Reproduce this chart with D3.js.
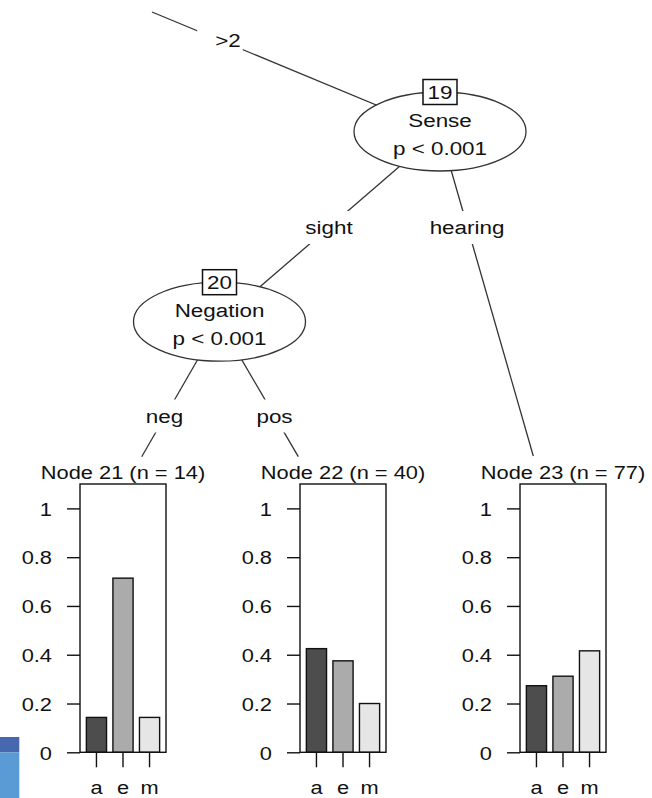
<!DOCTYPE html>
<html>
<head>
<meta charset="utf-8">
<script src="https://cdn.jsdelivr.net/npm/d3@7"></script>
<style>
body { margin: 0; background: #fff; }
svg { display: block; }
text { font-family: "Liberation Sans", Arial, sans-serif; fill: #111; }
</style>
</head>
<body>
<svg></svg>
<script>
// Terminal nodes: id, size and class proportions
var nodeIds = [21, 22, 23];
var nodeCounts = [14, 40, 77];
var classes = ["a", "e", "m"];
var node21Props = [0.143, 0.714, 0.143];
var node22Props = [0.425, 0.375, 0.2];
var node23Props = [0.273, 0.312, 0.416];
var yTicks = [0, 0.2, 0.4, 0.6, 0.8, 1];
var yTickLabels = ["0", "0.2", "0.4", "0.6", "0.8", "1"];

// Inner nodes
var innerIds = [19, 20];
var innerVars = ["Sense", "Negation"];
var innerPvals = ["p < 0.001", "p < 0.001"];

// Edge labels (top stub, 19->20, 19->23, 20->21, 20->22)
var edgeLabels = [">2", "sight", "hearing", "neg", "pos"];

// ---- layout (not data) ----
var W = 652, H = 798;
var xStretch = 1.18; // text in the picture is a bit wider than Arial
var treeFont = 19, panelFont = 18.5;
var innerPos = [[440, 131.5], [219.5, 321.7]];
var ellRx = 86, ellRy = 39.5;
var panelLeft = [80, 300, 520], panelW = 86;
var panelTop = 484, panelBottom = 752.3;
var barColors = ["#4d4d4d", "#ababab", "#e6e6e6"];
var lineCol = "#333";

// edges: [x1, y1, x2, y2], label centre, rect shift
var edges = [
    [152, 12, innerPos[0][0], innerPos[0][1]],
    [innerPos[0][0], innerPos[0][1], innerPos[1][0], innerPos[1][1]],
    [innerPos[0][0], innerPos[0][1], 533.3, 456],
    [innerPos[1][0], innerPos[1][1], 141.7, 456.7],
    [innerPos[1][0], innerPos[1][1], 298.3, 456.7]
];
var labelPos = [[228, 40], [329, 227.5], [467, 227.5], [164.5, 416], [274.5, 416]];
var rectShift = [-8, 0, 0, 0, 0];

var svg = d3.select("svg").attr("width", W).attr("height", H);

//Writes text stretched horizontally like the reference.
function stretchText(g, x, y, str, size, anchor) {
    return g.append("text")
        .attr("transform", "translate(" + x + "," + y + ") scale(" + xStretch + ",1)")
        .attr("text-anchor", anchor || "middle")
        .attr("font-size", size)
        .text(str);
}

// slide decoration in lower-left corner
svg.append("rect").attr("x", 0).attr("y", 737).attr("width", 19.3).attr("height", 15.3).attr("fill", "#4767af");
svg.append("rect").attr("x", 0).attr("y", 752.3).attr("width", 19.3).attr("height", H - 752.3).attr("fill", "#5b9bd5");

// edges
var i;
for (i = 0; i < edges.length; i++) {
    svg.append("line")
        .attr("x1", edges[i][0]).attr("y1", edges[i][1])
        .attr("x2", edges[i][2]).attr("y2", edges[i][3])
        .attr("stroke", lineCol).attr("stroke-width", 1.3);
}

// edge labels with white background
for (i = 0; i < edgeLabels.length; i++) {
    var lg = svg.append("g");
    var bg = lg.append("rect").attr("fill", "white");
    var t = stretchText(lg, labelPos[i][0], labelPos[i][1] + 6.7, edgeLabels[i], treeFont);
    var tw = t.node().getComputedTextLength() * xStretch;
    bg.attr("x", labelPos[i][0] + rectShift[i] - tw / 2 - 10)
        .attr("y", labelPos[i][1] - 16.5)
        .attr("width", tw + 20)
        .attr("height", 33);
}

// inner nodes
for (i = 0; i < innerIds.length; i++) {
    var cx = innerPos[i][0], cy = innerPos[i][1];
    svg.append("ellipse")
        .attr("cx", cx).attr("cy", cy).attr("rx", ellRx).attr("ry", ellRy)
        .attr("fill", "white").attr("stroke", lineCol).attr("stroke-width", 1.3);
    stretchText(svg, cx, cy - 4.5, innerVars[i], treeFont);
    stretchText(svg, cx, cy + 23, innerPvals[i], treeFont);
    svg.append("rect")
        .attr("x", cx - 17).attr("y", cy - ellRy - 12.5)
        .attr("width", 34).attr("height", 25)
        .attr("fill", "white").attr("stroke", "#111").attr("stroke-width", 1.5);
    stretchText(svg, cx, cy - ellRy + 7, String(innerIds[i]), treeFont);
}

// terminal panels
var props = [node21Props, node22Props, node23Props];
var y = d3.scaleLinear().domain([0, 1.1]).range([panelBottom, panelTop]);

for (i = 0; i < nodeIds.length; i++) {
    var left = panelLeft[i];
    var x = d3.scaleBand().domain(classes).range([left, left + panelW]).padding(0.24);
    var pg = svg.append("g");

    pg.selectAll("rect.bar")
        .data(props[i])
        .enter().append("rect")
        .attr("class", "bar")
        .attr("x", function(d, j) { return x(classes[j]); })
        .attr("y", function(d) { return y(d); })
        .attr("width", x.bandwidth())
        .attr("height", function(d) { return y(0) - y(d); })
        .attr("fill", function(d, j) { return barColors[j]; })
        .attr("stroke", "#111").attr("stroke-width", 1.4);

    // y axis
    var ya = pg.append("g").attr("transform", "translate(" + left + ",0)")
        .call(d3.axisLeft(y).tickValues(yTicks)
            .tickFormat(function(d, j) { return yTickLabels[j]; })
            .tickSize(13));
    ya.select(".domain").remove();
    ya.selectAll(".tick line").attr("stroke", "#111").attr("stroke-width", 1.4);
    ya.selectAll(".tick text")
        .attr("x", 0).attr("dy", null)
        .attr("transform", "translate(-28,6.8) scale(" + xStretch + ",1)")
        .attr("font-size", panelFont)
        .attr("font-family", null)
        .attr("fill", "#111");

    // x axis
    var xa = pg.append("g").attr("transform", "translate(0," + panelBottom + ")")
        .call(d3.axisBottom(x).tickSize(15));
    xa.select(".domain").remove();
    xa.selectAll(".tick line").attr("stroke", "#111").attr("stroke-width", 1.4);
    xa.selectAll(".tick text")
        .attr("y", 0).attr("dy", null)
        .attr("transform", "translate(0,41.5) scale(" + xStretch + ",1)")
        .attr("font-size", panelFont)
        .attr("font-family", null)
        .attr("fill", "#111");

    // box
    pg.append("rect")
        .attr("x", left).attr("y", panelTop)
        .attr("width", panelW).attr("height", panelBottom - panelTop)
        .attr("fill", "none").attr("stroke", "#111").attr("stroke-width", 1.4);

    stretchText(pg, left + panelW / 2, panelTop - 5.5,
        "Node " + nodeIds[i] + " (n = " + nodeCounts[i] + ")", panelFont);
}
</script>
</body>
</html>
